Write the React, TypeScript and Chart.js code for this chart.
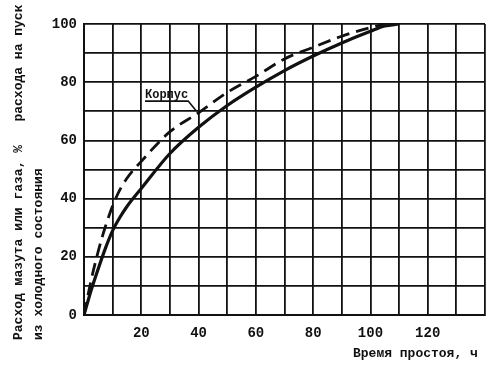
import React, { useEffect, useRef } from 'react';
import { Chart, registerables } from 'chart.js';

Chart.register(...registerables);

// Downtime, hours (x) and fuel consumption, % of cold-start consumption (y)
const solidHours = [0, 2.5, 5, 7.5, 10, 12.5, 15, 20, 30, 40, 50, 60, 70, 80, 90, 100, 105, 110];
const solidValues = [0, 8.5, 16, 23, 29, 33.5, 37.3, 43.5, 55.5, 64.5, 72, 78.3, 84, 89, 93.5, 97.5, 99.3, 100];

const dashHours = [0, 2.5, 5, 7.5, 10, 12.5, 15, 20, 30, 40, 50, 60, 70, 80, 90, 100, 105];
const dashValues = [0, 12, 22, 30.5, 37.5, 43, 47, 52.8, 63, 69.5, 76.5, 82, 88, 92, 95.8, 98.8, 100];

const dashLabel = 'Корпус';
const yTitleLine1 = 'Расход мазута или газа, %   расхода на пуск';
const yTitleLine2 = 'из холодного состояния';
const xTitle = 'Время простоя, ч';

const xTickLabels = ['20', '40', '60', '80', '100', '120'];
const yTickLabels = ['0', '20', '40', '60', '80', '100'];

const INK = '#111';
const MONO = '"Liberation Mono", "DejaVu Sans Mono", monospace';

const textPlugin = {
  id: 'scanTexts',
  afterDraw(chart: any) {
    const ctx = chart.ctx as CanvasRenderingContext2D;
    const xs = chart.scales.x;
    const ys = chart.scales.y;
    ctx.save();
    ctx.fillStyle = INK;
    ctx.strokeStyle = INK;
    ctx.font = `bold 13px ${MONO}`;
    ctx.textAlign = 'left';
    ctx.textBaseline = 'alphabetic';

    // rotated y-axis title, two lines
    ctx.save();
    ctx.translate(22, 340);
    ctx.rotate(-Math.PI / 2);
    ctx.fillText(yTitleLine1, 0, 0);
    ctx.restore();

    ctx.save();
    ctx.translate(42, 340);
    ctx.rotate(-Math.PI / 2);
    ctx.fillText(yTitleLine2, 0, 0);
    ctx.restore();

    // x-axis title
    ctx.fillText(xTitle, 353, 357);

    // "Корпус" label with underline and leader to the dashed curve
    const tipX = xs.getPixelForValue(39.3);
    const tipY = ys.getPixelForValue(70);
    const lx = xs.getPixelForValue(21.3);
    const ly = ys.getPixelForValue(73.5);
    ctx.font = `bold 12px ${MONO}`;
    ctx.fillText(dashLabel, lx, ly - 3);
    const w = ctx.measureText(dashLabel).width;
    ctx.lineWidth = 1.6;
    ctx.beginPath();
    ctx.moveTo(lx, ly);
    ctx.lineTo(lx + w, ly);
    ctx.lineTo(tipX, tipY);
    ctx.stroke();
    ctx.restore();
  },
};

export default function App() {
  const ref = useRef<HTMLCanvasElement | null>(null);

  useEffect(() => {
    if (!ref.current) return;
    const chart = new Chart(ref.current, {
      type: 'line',
      data: {
        datasets: [
          {
            data: solidHours.map((h, i) => ({ x: h, y: solidValues[i] })),
            borderColor: INK,
            borderWidth: 3.2,
            pointRadius: 0,
            cubicInterpolationMode: 'monotone',
            fill: false,
          },
          {
            label: dashLabel,
            data: dashHours.map((h, i) => ({ x: h, y: dashValues[i] })),
            borderColor: INK,
            borderWidth: 2.8,
            borderDash: [13, 7],
            pointRadius: 0,
            cubicInterpolationMode: 'monotone',
            fill: false,
          },
        ],
      },
      options: {
        animation: false,
        responsive: false,
        devicePixelRatio: 1,
        layout: { padding: { top: 24, right: 14, left: 0, bottom: 0 } },
        plugins: {
          legend: { display: false },
          tooltip: { enabled: false },
        },
        scales: {
          x: {
            type: 'linear',
            min: 0,
            max: 140,
            afterFit: (s: any) => {
              s.height = 55;
            },
            ticks: {
              stepSize: 10,
              autoSkip: false,
              maxRotation: 0,
              padding: 10,
              color: INK,
              font: { family: MONO, size: 14, weight: 'bold' },
              callback: (v: any) => {
                const s = String(v);
                return xTickLabels.includes(s) ? s : '';
              },
            },
            grid: { color: INK, lineWidth: 1.8, drawTicks: false },
            border: { color: INK, width: 2 },
          },
          y: {
            type: 'linear',
            min: 0,
            max: 100,
            afterFit: (s: any) => {
              s.width = 84;
            },
            ticks: {
              stepSize: 10,
              autoSkip: false,
              padding: 7,
              color: INK,
              font: { family: MONO, size: 14, weight: 'bold' },
              callback: (v: any) => {
                const s = String(v);
                return yTickLabels.includes(s) ? s : '';
              },
            },
            grid: { color: INK, lineWidth: 1.8, drawTicks: false },
            border: { color: INK, width: 2 },
          },
        },
      },
      plugins: [textPlugin],
    } as any);
    return () => chart.destroy();
  }, []);

  return (
    <div style={{ position: 'fixed', left: 0, top: 0, width: 499, height: 370, background: '#fff' }}>
      <canvas ref={ref} width={499} height={370} />
    </div>
  );
}
